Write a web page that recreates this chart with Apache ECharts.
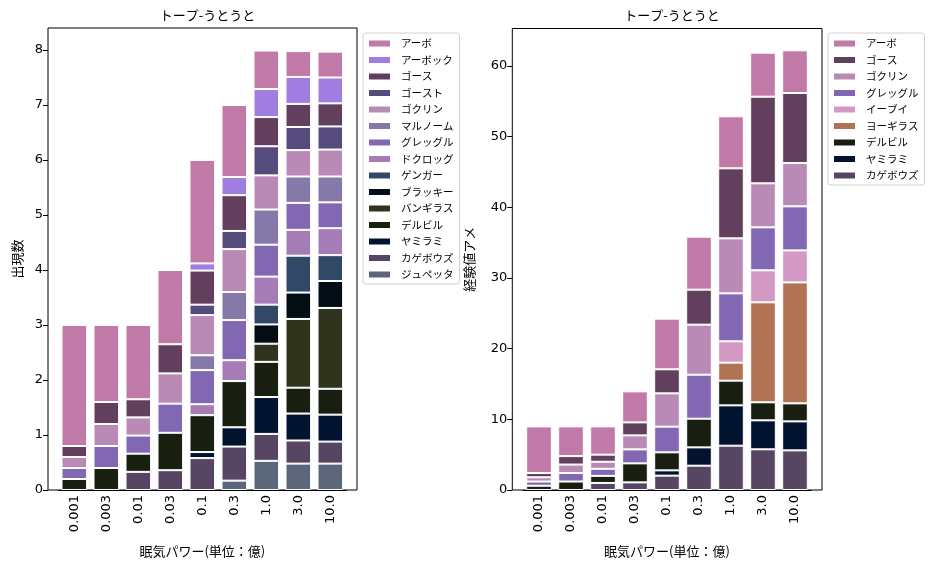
<!DOCTYPE html>
<html><head><meta charset="utf-8">
<script src="https://cdn.jsdelivr.net/npm/echarts@6/dist/echarts.min.js"></script>
<style>html,body{margin:0;padding:0;background:#fff}#c{width:933px;height:568px}</style>
</head><body><div id="c"></div>
<script>
const categories = ['0.001','0.003','0.01','0.03','0.1','0.3','1.0','3.0','10.0'];
const leftTicks  = [0,1,2,3,4,5,6,7,8];
const rightTicks = [0,10,20,30,40,50,60];

// Left chart (出現数), bottom-first stacking order
const L_jupetta   = [null,null,null,null,null,0.17,0.53,0.48,0.48];
const L_kagebouzu = [null,null,0.33,0.36,0.58,0.62,0.49,0.42,0.40];
const L_yamirami  = [null,null,null,null,0.11,0.35,0.67,0.49,0.49];
const L_deruvil   = [0.2,0.4,0.33,0.68,0.67,0.84,0.64,0.47,0.47];
const L_bangiras  = [null,null,null,null,null,null,0.33,1.25,1.47];
const L_blacky    = [null,null,null,null,null,null,0.35,0.48,0.49];
const L_gengar    = [null,null,null,null,null,null,0.36,0.67,0.47];
const L_dokurog   = [null,null,null,null,0.2,0.38,0.51,0.47,0.49];
const L_gureggru  = [0.2,0.4,0.33,0.53,0.62,0.73,0.58,0.49,0.47];
const L_marunoom  = [null,null,null,null,0.27,0.51,0.64,0.48,0.47];
const L_gokulin   = [0.2,0.4,0.33,0.55,0.73,0.78,0.62,0.48,0.49];
const L_ghost     = [null,null,null,null,0.19,0.33,0.53,0.42,0.42];
const L_ghos      = [0.2,0.4,0.33,0.53,0.62,0.65,0.53,0.42,0.42];
const L_arbok     = [null,null,null,null,0.13,0.33,0.51,0.49,0.47];
const L_arbo      = [2.2,1.4,1.35,1.35,1.88,1.31,0.7,0.47,0.47];

// Right chart (経験値アメ), bottom-first stacking order
const R_kagebouzu = [null,null,1.0,1.08,2.03,3.44,6.27,5.76,5.61];
const R_yamirami  = [null,null,null,null,0.75,2.59,5.71,4.10,4.10];
const R_deruvil   = [0.6,1.2,1.0,2.69,2.55,4.06,3.49,2.55,2.55];
const R_yogiras   = [null,null,null,null,null,null,2.55,14.15,17.12];
const R_eievui    = [null,null,null,null,null,null,3.02,4.53,4.53];
const R_gureggru  = [0.6,1.2,1.0,1.98,3.63,6.23,6.79,6.08,6.23];
const R_gokulin   = [0.6,1.2,1.0,1.98,4.72,7.08,7.78,6.23,6.13];
const R_ghos      = [0.6,1.2,1.0,1.84,3.40,4.95,9.91,12.26,9.91];
const R_arbo      = [6.6,4.2,4.0,4.39,7.17,7.5,7.36,6.23,6.04];

const leftNames  = ['ジュペッタ','カゲボウズ','ヤミラミ','デルビル','バンギラス','ブラッキー','ゲンガー','ドクロッグ','グレッグル','マルノーム','ゴクリン','ゴースト','ゴース','アーボック','アーボ'];
const leftValues = [L_jupetta,L_kagebouzu,L_yamirami,L_deruvil,L_bangiras,L_blacky,L_gengar,L_dokurog,L_gureggru,L_marunoom,L_gokulin,L_ghost,L_ghos,L_arbok,L_arbo];
const rightNames = ['カゲボウズ','ヤミラミ','デルビル','ヨーギラス','イーブイ','グレッグル','ゴクリン','ゴース','アーボ'];
const rightValues = [R_kagebouzu,R_yamirami,R_deruvil,R_yogiras,R_eievui,R_gureggru,R_gokulin,R_ghos,R_arbo];

const colors = {
  'アーボ':'#c179a7','アーボック':'#a07de0','ゴース':'#623f5c','ゴースト':'#554c7d',
  'ゴクリン':'#b98ab5','マルノーム':'#8579a9','グレッグル':'#8268b3','ドクロッグ':'#a67cb7',
  'ゲンガー':'#314866','ブラッキー':'#030d14','バンギラス':'#31341c','デルビル':'#181f10',
  'ヤミラミ':'#021330','カゲボウズ':'#574564','ジュペッタ':'#5b667b',
  'イーブイ':'#d199c4','ヨーギラス':'#b07454'
};

const JP = '"Noto Sans CJK JP", sans-serif';
const NUM = '"DejaVu Sans", sans-serif';

function mkSeries(names, values, stack, axisIdx) {
  return names.map((n, i) => ({
    type: 'bar', name: n, stack: stack, xAxisIndex: axisIdx, yAxisIndex: axisIdx,
    data: values[i], barWidth: '80%',
    itemStyle: { color: colors[n], borderColor: '#fff', borderWidth: 1 },
    emphasis: { disabled: true }
  }));
}

function catAxis(grid) {
  return {
    gridIndex: grid, type: 'category', data: categories,
    axisLine: { lineStyle: { color: '#000', width: 1 } },
    axisTick: { alignWithLabel: true, length: 5, lineStyle: { color: '#000' } },
    axisLabel: { rotate: 90, color: '#000', fontSize: 13, fontFamily: NUM, margin: 5 },
    name: '眠気パワー(単位：億)', nameLocation: 'middle', nameGap: 55,
    nameTextStyle: { color: '#000', fontSize: 13, fontFamily: JP }
  };
}
function valAxis(grid, max, ticks, offset, name, gap) {
  return {
    gridIndex: grid, type: 'value', min: 0, max: max, offset: offset,
    axisLine: { show: false },
    axisTick: { show: true, length: 5, lineStyle: { color: '#000' }, customValues: ticks },
    axisLabel: { color: '#000', fontSize: 13, fontFamily: NUM, margin: 5, customValues: ticks },
    splitLine: { show: false },
    name: name, nameLocation: 'middle', nameGap: gap,
    nameTextStyle: { color: '#000', fontSize: 13, fontFamily: JP }
  };
}
const hiddenX = g => ({ gridIndex: g, type: 'value', show: false });
const hiddenY = g => ({ gridIndex: g, type: 'value', show: false });

const legendCommon = {
  orient: 'vertical', icon: 'rect', itemWidth: 23, itemHeight: 8, itemGap: 5.5,
  textStyle: { fontSize: 10.5, fontFamily: JP, color: '#000', lineHeight: 11, padding: [0, 0, 0, 5] },
  borderColor: '#d0d0d0', borderWidth: 1, borderRadius: 3, padding: [5, 6, 4, 4],
  backgroundColor: '#fff', selectedMode: false
};

const option = {
  animation: false,
  backgroundColor: '#fff',
  title: [
    { text: 'トープ-うとうと', left: 202.5, top: 4, textAlign: 'center',
      textStyle: { fontSize: 13, fontWeight: 'normal', color: '#000', fontFamily: JP } },
    { text: 'トープ-うとうと', left: 667, top: 4, textAlign: 'center',
      textStyle: { fontSize: 13, fontWeight: 'normal', color: '#000', fontFamily: JP } }
  ],
  legend: [
    Object.assign({}, legendCommon, { left: 363, top: 33, data: leftNames.slice().reverse() }),
    Object.assign({}, legendCommon, { left: 828, top: 33, data: rightNames.slice().reverse() })
  ],
  grid: [
    { left: 58.3, top: 28, width: 288, height: 462 },
    { left: 48, top: 28, width: 309, height: 462, show: true, borderColor: '#000', borderWidth: 1, backgroundColor: 'transparent' },
    { left: 523, top: 28.5, width: 288, height: 461.5 },
    { left: 512.3, top: 28.5, width: 309.7, height: 461.5, show: true, borderColor: '#000', borderWidth: 1, backgroundColor: 'transparent' }
  ],
  xAxis: [catAxis(0), hiddenX(1), catAxis(2), hiddenX(3)],
  yAxis: [
    valAxis(0, 8.4, leftTicks, 10.3, '出現数', 24),
    hiddenY(1),
    valAxis(2, 65.31, rightTicks, 10.7, '経験値アメ', 37),
    hiddenY(3)
  ],
  series: [].concat(mkSeries(leftNames, leftValues, 'L', 0), mkSeries(rightNames, rightValues, 'R', 2))
};

const chart = echarts.init(document.getElementById('c'), null, { renderer: 'canvas' });
chart.setOption(option);
</script>
</body></html>
